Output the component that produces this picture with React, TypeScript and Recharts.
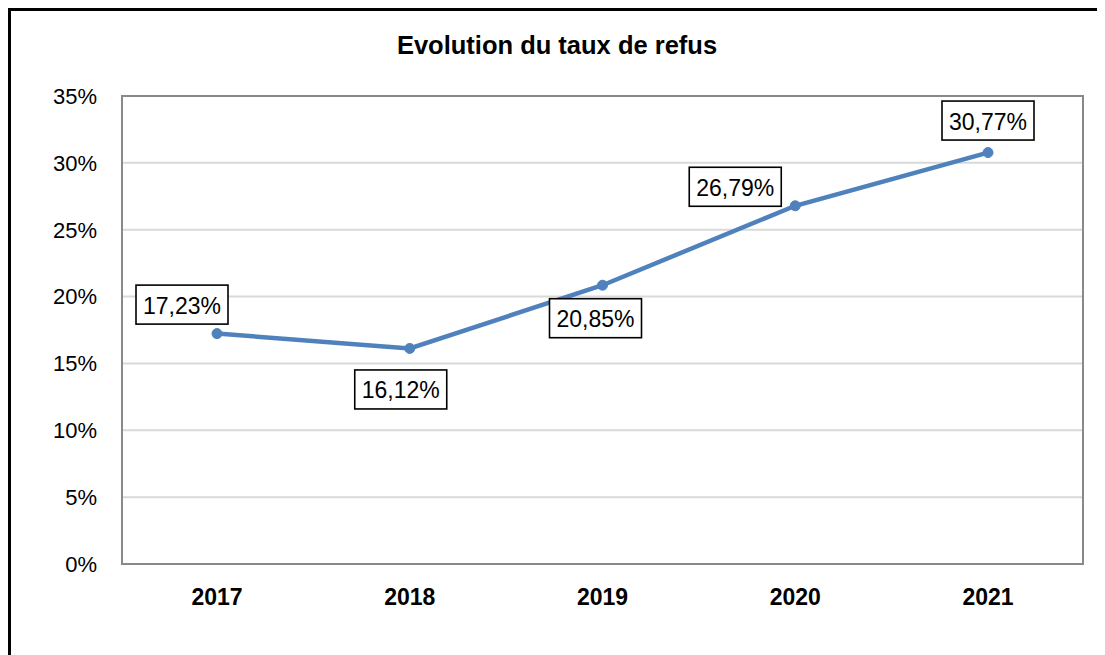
import React from "react";
import * as R from "recharts";
import { LineChart, Line, XAxis, YAxis, CartesianGrid, LabelList } from "recharts";

const years = ["2017", "2018", "2019", "2020", "2021"];
const refusalRates = [17.23, 16.12, 20.85, 26.79, 30.77];
const yTicks = [0, 5, 10, 15, 20, 25, 30, 35];
const chartTitle = "Evolution du taux de refus";

// placement of each data label box (centre relative to its point), layout only
const labelShift: [number, number][] = [
  [-35, -29],
  [-9, 41],
  [-7, 33],
  [-60, -19],
  [0, -32],
];

const data = years.map((y, i) => ({ year: y, rate: refusalRates[i] }));

const FONT = "'Liberation Sans', Arial, sans-serif";
const BLUE = "#4f81bd";
const FRAME = { stroke: "#898989", strokeWidth: 2 };

const fmt = (v: number) => v.toFixed(2).replace(".", ",") + "%";

const usePA: any = (R as any).usePlotArea || (R as any).useOffset || (() => null);

function PlotFrame() {
  const pa = usePA();
  if (!pa) return null;
  const x = pa.x != null ? pa.x : pa.left;
  const y = pa.y != null ? pa.y : pa.top;
  const { width, height } = pa;
  if (x == null || y == null || width == null || height == null) return null;
  return <rect x={x} y={y} width={width} height={height} fill="none" stroke={FRAME.stroke} strokeWidth={FRAME.strokeWidth} />;
}

const BoxLabel = (props: any) => {
  const { x, y, index, value } = props;
  if (x == null || y == null) return null;
  const [dx, dy] = labelShift[index] || [0, -30];
  const cx = Number(x) + dx;
  const cy = Number(y) + dy;
  const w = 92;
  const h = 39;
  return (
    <g>
      <rect x={cx - w / 2} y={cy - h / 2} width={w} height={h} fill="#fff" stroke="#000" strokeWidth={1.6} />
      <text x={cx} y={cy + 1} textAnchor="middle" dominantBaseline="central" fontFamily={FONT} fontSize={23} fill="#000">
        {fmt(Number(value))}
      </text>
    </g>
  );
};

export default function App() {
  return (
    <div style={{ position: "relative", width: 1097, height: 647, fontFamily: FONT }}>
      <style>{`body{overflow:hidden}`}</style>
      <div style={{ position: "absolute", left: 0, top: 0, width: 1097, height: 647, borderTop: "3px solid #000", borderLeft: "3px solid #000", boxSizing: "border-box" }} />
      <div
        style={{
          position: "absolute",
          left: 0,
          top: 22,
          width: 1098,
          textAlign: "center",
          fontFamily: FONT,
          fontWeight: "bold",
          fontSize: 25.5,
          color: "#000",
          lineHeight: "30px",
        }}
      >
        {chartTitle}
      </div>
      <div style={{ position: "absolute", left: 0, top: 0 }}>
        <LineChart width={1097} height={647} data={data} margin={{ top: 88, right: 22, bottom: 51, left: 0 }}>
          <CartesianGrid horizontal={true} vertical={false} stroke="#d9d9d9" strokeWidth={2} />
          <PlotFrame />
          <XAxis
            dataKey="year"
            padding={{ left: 95, right: 95 }}
            axisLine={FRAME}
            tickLine={false}
            tickSize={0}
            tickMargin={25}
            height={40}
            interval={0}
            tick={{ fontFamily: FONT, fontSize: 23, fontWeight: "bold", fill: "#000" }}
          />
          <YAxis
            width={114}
            domain={[0, 35]}
            ticks={yTicks}
            interval={0}
            axisLine={FRAME}
            tickLine={false}
            tickSize={0}
            tickMargin={25}
            tickFormatter={(v: number) => `${v}%`}
            tick={{ fontFamily: FONT, fontSize: 22, fill: "#000" }}
          />
          <Line
            type="linear"
            dataKey="rate"
            stroke={BLUE}
            strokeWidth={4.5}
            dot={{ r: 5, fill: BLUE, stroke: BLUE, strokeWidth: 1 }}
            activeDot={false}
            isAnimationActive={false}
          >
            <LabelList dataKey="rate" content={BoxLabel} />
          </Line>
        </LineChart>
      </div>
    </div>
  );
}
